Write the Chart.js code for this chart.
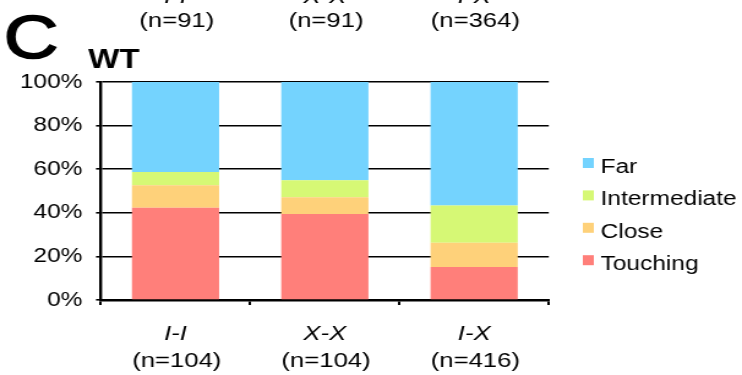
<!DOCTYPE html>
<html>
<head>
<meta charset="utf-8">
<script src="https://cdn.jsdelivr.net/npm/chart.js@4.4.1/dist/chart.umd.min.js"></script>
<style>
  html, body { margin: 0; padding: 0; background: #fff; overflow: hidden; }
  #wrap { width: 606px; height: 375px; transform: scaleX(1.2244); transform-origin: 0 0; }
</style>
</head>
<body>
<div id="wrap"><canvas id="chart" width="606" height="375"></canvas></div>
<script>
// data (percent of pairs per distance class)
const categories = ['I-I', 'X-X', 'I-X'];
const bottomCounts = ['(n=104)', '(n=104)', '(n=416)'];
const topLabels = ['I-I', 'X-X', 'I-X'];
const topCounts = ['(n=91)', '(n=91)', '(n=364)'];
const touching = [42.3, 39.4, 15.1];
const closeVals = [10.3, 7.7, 11.2];
const intermediate = [6.1, 7.8, 17.1];
const far = [41.3, 45.1, 56.6];
const seriesNames = ['Touching', 'Close', 'Intermediate', 'Far'];
const seriesColors = ['#ff7f7a', '#fed17a', '#d6f875', '#74d3fe'];

const FONT = "'Liberation Sans', Arial, sans-serif";

const labelsPlugin = {
  id: 'figLabels',
  afterDraw(chart) {
    const ctx = chart.ctx;
    const x = chart.scales.x;
    ctx.save();
    ctx.fillStyle = '#000';
    ctx.strokeStyle = '#000';

    // panel letter and title
    ctx.textAlign = 'left';
    ctx.textBaseline = 'alphabetic';
    ctx.font = '62px ' + FONT;
    ctx.fillText('C', 3, 58);
    ctx.lineWidth = 1.6;
    ctx.strokeText('C', 3, 58);
    ctx.font = 'bold 27px ' + FONT;
    ctx.fillText('WT', 72, 68);

    // category labels above (cut by the top edge) and below
    ctx.textAlign = 'center';
    categories.forEach((c, i) => {
      const cx = x.getPixelForValue(i);
      ctx.font = 'italic 21px ' + FONT;
      ctx.fillText(topLabels[i], cx, 3);
      ctx.font = '21px ' + FONT;
      ctx.fillText(topCounts[i], cx + 1, 27);
      ctx.font = 'italic 21px ' + FONT;
      ctx.fillText(c, cx, 339.5);
      ctx.font = '21px ' + FONT;
      ctx.fillText(bottomCounts[i], cx + 1, 367);
    });

    // legend, top to bottom reversed from stack order
    ctx.textAlign = 'left';
    ctx.font = '20px ' + FONT;
    const ds = chart.data.datasets.slice().reverse();
    ds.forEach((d, i) => {
      const base = 173 + i * 32.4;
      ctx.fillStyle = d.backgroundColor;
      ctx.fillRect(476, base - 15, 9, 10);
      ctx.fillStyle = '#000';
      ctx.fillText(d.label, 490.5, base);
    });
    ctx.restore();
  }
};

new Chart(document.getElementById('chart'), {
  type: 'bar',
  data: {
    labels: categories,
    datasets: [touching, closeVals, intermediate, far].map((vals, i) => ({
      label: seriesNames[i],
      data: vals,
      backgroundColor: seriesColors[i],
      borderWidth: 0,
      barPercentage: 0.584,
      categoryPercentage: 1
    }))
  },
  options: {
    responsive: false,
    animation: false,
    layout: { padding: { top: 82, right: 157.8, left: 0, bottom: 0 } },
    plugins: { legend: { display: false }, tooltip: { enabled: false } },
    scales: {
      x: {
        stacked: true,
        afterFit(scale) { scale.height = 75; },
        ticks: { display: false },
        grid: { offset: true, drawOnChartArea: false, drawTicks: true, tickLength: 5, color: '#000', lineWidth: 2 },
        border: { display: true, color: '#000', width: 2.5 }
      },
      y: {
        stacked: true,
        min: 0,
        max: 100,
        afterFit(scale) { scale.width = 82.4; },
        ticks: {
          stepSize: 20,
          padding: 11,
          color: '#000',
          font: { family: FONT, size: 20 },
          callback: v => v + '%'
        },
        grid: { color: '#000', lineWidth: 1.6, tickLength: 4 },
        border: { display: true, color: '#000', width: 2.4 }
      }
    }
  },
  plugins: [labelsPlugin]
});
</script>
</body>
</html>
